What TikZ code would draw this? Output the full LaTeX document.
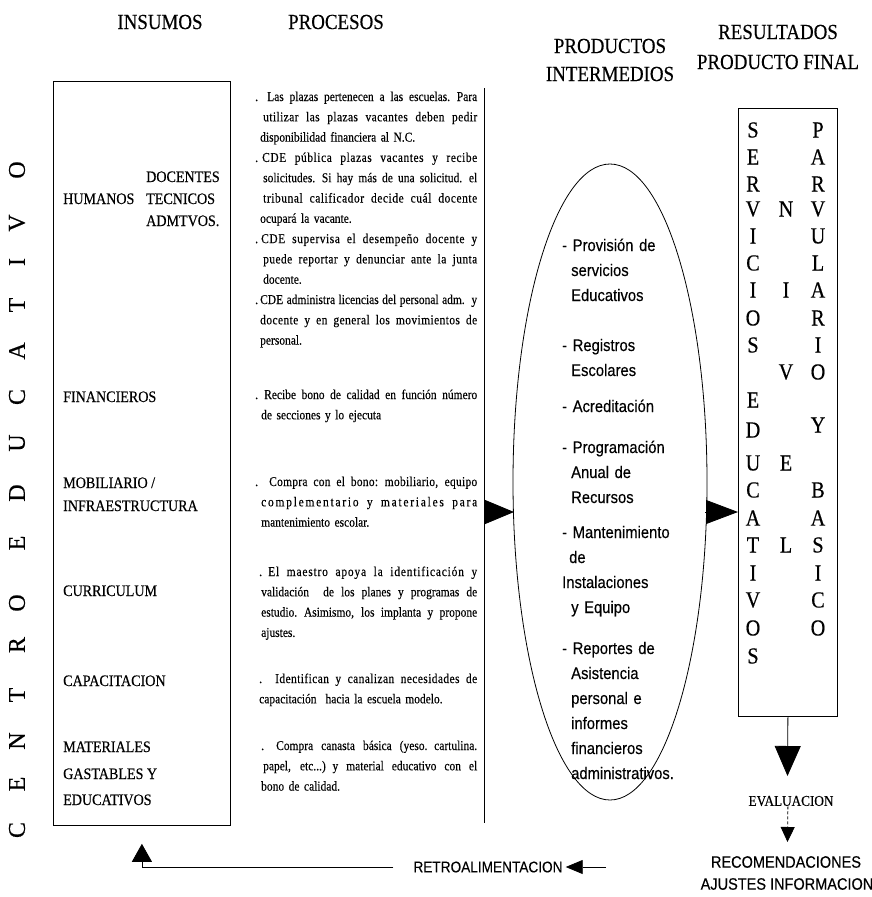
\documentclass[tikz,border=0pt]{standalone}
\usepackage{fontspec}
\setmainfont{Liberation Serif}
\newfontfamily\cserif[FakeStretch=0.88,FakeBold=0.4]{Liberation Serif}
\newfontfamily\pserif[FakeStretch=0.85,FakeBold=0.3]{Liberation Serif}
\newfontfamily\vserif[FakeBold=0.4]{Liberation Serif}
\newfontfamily\csans[FakeStretch=0.88,FakeBold=0.3]{Liberation Sans}
\usetikzlibrary{arrows.meta,shapes.geometric}
% justified line, optional indent
\newcommand{\pj}[2][0pt]{\hspace*{#1}{\spaceskip=0.27em plus 3em minus 0.08em\makebox[\dimexpr222pt-#1\relax][s]{#2}}}
% letter-spaced justified line: [indent]{letterspace}{text}
\newcommand{\pjl}[3][0pt]{\hspace*{#1}{\addfontfeature{LetterSpace=#2}\spaceskip=0.27em plus 3em minus 0.08em\makebox[\dimexpr222pt-#1\relax][s]{#3}}}
\begin{document}
\begin{tikzpicture}[x=1pt,y=-1pt,
  hdr/.style={font=\cserif\fontsize{21.5}{24}\selectfont, inner sep=0pt},
  lbl/.style={font=\cserif\fontsize{16}{20}\selectfont, anchor=base west, inner sep=0pt},
  proc/.style={font=\pserif\fontsize{13.5}{20.3}\selectfont, anchor=base west, inner sep=0pt, text width=222pt, align=left},
  itm/.style={font=\csans\fontsize{16.8}{25}\selectfont, anchor=base west, inner sep=0pt, text width=150pt, align=left},
  vlet/.style={font=\vserif\fontsize{24}{24}\selectfont, rotate=90, inner sep=0pt},
  blet/.style={font=\cserif\fontsize{23}{23}\selectfont, inner sep=0pt},
  boxs/.style={draw, line width=0.8pt, inner sep=0pt, anchor=north west},
  ln/.style={line width=0.8pt},
  rec/.style={font=\csans\fontsize{16.5}{18}\selectfont, inner sep=0pt},
]
\useasboundingbox (0,0) rectangle (872,897);

% headers
\node[hdr] (hins) at (160,22) {INSUMOS};
\node[hdr] (hpro) at (336,22) {PROCESOS};
\node[hdr] (hpi1) at (610,46) {PRODUCTOS};
\node[hdr] (hpi2) at (610,74) {INTERMEDIOS};
\node[hdr] (hre1) at (778,32) {RESULTADOS};
\node[hdr] (hre2) at (778,62) {PRODUCTO FINAL};

% vertical text
\foreach \l/\y [count=\i] in {C/830,E/784,N/741,T/695,R/645,O/603,E/543,D/493,U/443,C/397,A/351,T/305,I/262,V/223,O/170}
  \node[vlet] (vl\i) at (17,\y) {\l};

% left box
\node[boxs, minimum width=177pt, minimum height=744pt] (inbox) at (53,81) {};
\node[lbl] (lhum) at (63,204) {HUMANOS};
\node[lbl] (ldoc) at (146,182) {DOCENTES};
\node[lbl] (ltec) at (146,204) {TECNICOS};
\node[lbl] (ladm) at (146,226) {ADMTVOS.};
\node[lbl] (lfin) at (63,402) {FINANCIEROS};
\node[lbl] (lmob) at (63,488) {MOBILIARIO /};
\node[lbl] (linf) at (63,511) {INFRAESTRUCTURA};
\node[lbl] (lcur) at (63,596) {CURRICULUM};
\node[lbl] (lcap) at (63,686) {CAPACITACION};
\node[lbl] (lmat) at (63,752) {MATERIALES};
\node[lbl] (lgas) at (63,779) {GASTABLES Y};
\node[lbl] (ledu) at (63,805) {EDUCATIVOS};

% process texts
\node[proc] (p1) at (255,101) {%
\pj{\makebox[12pt][l]{.}Las plazas pertenecen a las escuelas. Para}\\
\pjl[8pt]{3}{utilizar las plazas vacantes deben pedir}\\
\hspace*{5pt}disponibilidad financiera al N.C.\\
\pjl{4}{\makebox[7pt][l]{.}CDE pública plazas vacantes y recibe}\\
\pj[8pt]{solicitudes. Si hay más de una solicitud. el}\\
\pjl[8pt]{4}{tribunal calificador decide cuál docente}\\
\hspace*{5pt}ocupará la vacante.\\
\pjl{4}{\makebox[6pt][l]{.}CDE supervisa el desempeño docente y}\\
\pjl[8pt]{3}{puede reportar y denunciar ante la junta}\\
\hspace*{8pt}docente.\\
\pj{\makebox[5pt][l]{.}CDE administra licencias del personal adm. y}\\
\pjl[5pt]{3}{docente y en general los movimientos de}\\
\hspace*{5pt}personal.};
\node[proc] (p2) at (255,399) {%
\pj{\makebox[9pt][l]{.}Recibe bono de calidad en función número}\\
\hspace*{6pt}de secciones y lo ejecuta};
\node[proc] (p3) at (255,486) {%
\pjl{2}{\makebox[14pt][l]{.}Compra con el bono: mobiliario, equipo}\\
\pjl[6pt]{13}{complementario y materiales para}\\
\hspace*{6pt}mantenimiento escolar.};
\node[proc] (p4) at (255,576) {%
\pjl[4pt]{6}{\makebox[9pt][l]{.}El maestro apoya la identificación y}\\
\pj[6pt]{validación\ \ de los planes y programas de}\\
\pj[6pt]{estudio. Asimismo, los implanta y propone}\\
\hspace*{6pt}ajustes.};
\node[proc] (p5) at (255,683) {%
\pjl[4pt]{3}{\makebox[16pt][l]{.}Identifican y canalizan necesidades de}\\
\hspace*{4pt}capacitación\ \ hacia la escuela modelo.};
\node[proc] (p6) at (255,750) {%
\pj[6pt]{\makebox[15pt][l]{.}Compra canasta básica (yeso. cartulina.}\\
\pj[8pt]{papel, etc...) y material educativo con el}\\
\hspace*{6pt}bono de calidad.};

% process separator line
\coordinate (plt) at (484,88);
\coordinate (plb) at (484,823);
\draw[ln] (plt) -- (plb);

% ellipse
\node[draw, ln, ellipse, minimum width=194pt, minimum height=636pt, inner sep=0pt] (ell) at (610,482) {};
\node[itm] (e1) at (562,251) {- Provisión de\\\hspace*{9pt}servicios\\\hspace*{9pt}Educativos};
\node[itm] (e2) at (562,351) {- Registros\\\hspace*{9pt}Escolares};
\node[itm] (e3) at (562,412) {- Acreditación};
\node[itm] (e4) at (562,453) {- Programación\\\hspace*{9pt}Anual de\\\hspace*{9pt}Recursos};
\node[itm] (e5) at (562,538) {- Mantenimiento\\\hspace*{7pt}de\\Instalaciones\\\hspace*{9pt}y Equipo};
\node[itm] (e6) at (562,654) {- Reportes de\\\hspace*{9pt}Asistencia\\\hspace*{9pt}personal e\\\hspace*{9pt}informes\\\hspace*{9pt}financieros\\\hspace*{9pt}administrativos.};

% middle arrows
\coordinate (m1s) at (484,512);
\coordinate (m1e) at (514,512);
\draw[ln,-{Triangle[length=29pt,width=24pt]}] (m1s) -- (m1e);
\coordinate (m2s) at (705,512);
\coordinate (m2e) at (738,512);
\draw[ln,-{Triangle[length=32pt,width=24pt]}] (m2s) -- (m2e);

% right box
\node[boxs, minimum width=99pt, minimum height=608pt] (rbox) at (738,108) {};
\foreach \l/\y [count=\i] in {S/130,E/157,R/184,V/209,I/236,C/263,I/290,O/318,S/345,E/400,D/430,U/463,C/490,A/518,T/545,I/573,V/600,O/628,S/656}
  \node[blet] (ca\i) at (753,\y) {\l};
\foreach \l/\y [count=\i] in {N/209,I/290,V/372,E/463,L/545}
  \node[blet] (cb\i) at (786,\y) {\l};
\foreach \l/\y [count=\i] in {P/130,A/157,R/184,V/209,U/236,L/263,A/290,R/318,I/345,O/372,Y/425,B/490,A/518,S/545,I/573,C/600,O/628}
  \node[blet] (cc\i) at (818,\y) {\l};

% evaluation chain
\coordinate (dtip) at (787.5,776);
\draw[ln,-{Triangle[length=30pt,width=26pt]}] (rbox.south) -- (dtip);
\node[font=\cserif\fontsize{15}{15}\selectfont, inner sep=0pt] (eval) at (791,801) {EVALUACION};
\coordinate (stip) at (787.5,842);
\draw[ln, densely dashed, -{Triangle[length=15pt,width=14pt]}] (eval.south -| rbox.south) -- (stip);
\node[rec] (recom) at (786,862) {RECOMENDACIONES};
\node[rec] (ajus) at (787,884) {AJUSTES INFORMACION};

% feedback
\node[font=\csans\fontsize{15.5}{17}\selectfont, inner sep=0pt] (retro) at (488,867) {RETROALIMENTACION};
\coordinate (rfree) at (606,867);
\draw[ln,-{Triangle[length=17pt,width=14pt]}] (rfree) -- ([xshift=3pt]retro.east);
\draw[ln,-{Triangle[length=18pt,width=20pt]}] ([xshift=-20pt]retro.west) -| ([yshift=-18pt]inbox.south);
\end{tikzpicture}
\end{document}
